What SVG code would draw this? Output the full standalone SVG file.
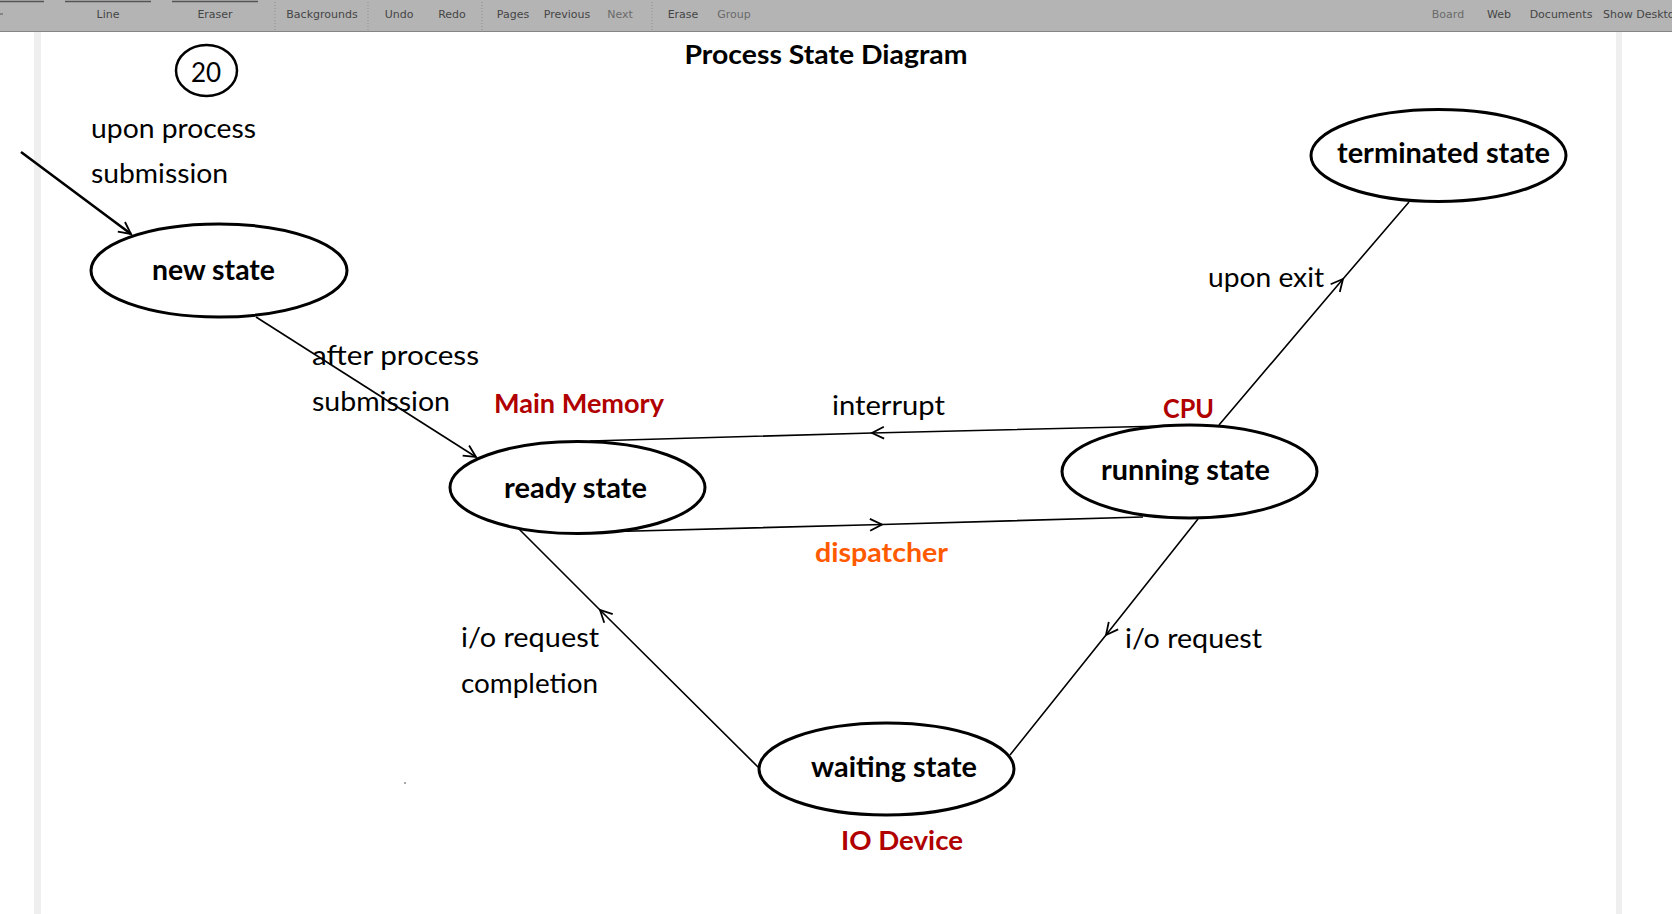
<svg xmlns="http://www.w3.org/2000/svg" width="1672" height="914" viewBox="0 0 1672 914">
<style>
.tb{font-family:"DejaVu Sans",sans-serif;font-size:11px;fill:#454545;text-anchor:middle}
.tbl{fill:#6a6a6a}
.sep{stroke:#8f8f8f;stroke-width:1;stroke-dasharray:1 2}
.node{fill:#fff;stroke:#000;stroke-width:3}
.nl{font-family:Lato,"Noto Sans",sans-serif;font-weight:bold;font-size:28px;fill:#000}
.lb{font-family:Lato,"Noto Sans",sans-serif;font-size:26px;fill:#000}
.red{font-family:Lato,"Noto Sans",sans-serif;font-weight:bold;font-size:26px;fill:#b00000}
.org{font-family:Lato,"Noto Sans",sans-serif;font-weight:bold;font-size:26px;fill:#ff5a00}
.conn{fill:none;stroke:#000;stroke-width:1.6}
</style>
<defs>
<marker id="arr" markerUnits="userSpaceOnUse" markerWidth="30" markerHeight="30" viewBox="-15 -15 30 30" refX="0" refY="0" orient="auto" overflow="visible">
<path d="M-12,-6 L0,0 L-12,6" fill="none" stroke="#000" stroke-width="1.8"/>
</marker>
</defs>
<rect x="0" y="0" width="1672" height="914" fill="#fff"/>
<g id="toolbar">
<rect x="0" y="0" width="1672" height="31" fill="#b4b4b4"/>
<line x1="0" y1="31.5" x2="1672" y2="31.5" stroke="#858585" stroke-width="1"/>
<path d="M0,1.5 H44 M65,1.5 H151 M172,1.5 H258" fill="none" stroke="#555" stroke-width="1.5"/>
<line x1="0" y1="14" x2="3" y2="14" stroke="#555"/>
<line class="sep" x1="275" y1="2" x2="275" y2="31"/>
<line class="sep" x1="368" y1="2" x2="368" y2="31"/>
<line class="sep" x1="482" y1="2" x2="482" y2="31"/>
<line class="sep" x1="652" y1="2" x2="652" y2="31"/>
<text class="tb" x="108" y="18">Line</text>
<text class="tb" x="215" y="18">Eraser</text>
<text class="tb" x="322" y="18">Backgrounds</text>
<text class="tb" x="399" y="18">Undo</text>
<text class="tb" x="452" y="18">Redo</text>
<text class="tb" x="513" y="18">Pages</text>
<text class="tb" x="567" y="18">Previous</text>
<text class="tb tbl" x="620" y="18">Next</text>
<text class="tb" x="683" y="18">Erase</text>
<text class="tb tbl" x="734" y="18">Group</text>
<text class="tb tbl" x="1448" y="18">Board</text>
<text class="tb" x="1499" y="18">Web</text>
<text class="tb" x="1561" y="18">Documents</text>
<text class="tb" x="1603" y="18" style="text-anchor:start">Show Deskto</text>
</g>
<rect x="34" y="32" width="7" height="882" fill="#efefef"/>
<rect x="1616" y="32" width="6" height="882" fill="#efefef"/>
<rect x="404" y="782" width="2" height="2" fill="#aaa"/>
<text x="826" y="64" text-anchor="middle" font-family="Lato,'Noto Sans',sans-serif" font-weight="bold" font-size="27" textLength="283" lengthAdjust="spacingAndGlyphs">Process State Diagram</text>
<g id="page-number">
<ellipse cx="206.5" cy="70.5" rx="30.5" ry="25.5" fill="none" stroke="#000" stroke-width="2.5"/>
<text class="lb" x="206" y="82" text-anchor="middle" font-size="28">20</text>
</g>
<g id="connectors">
<line x1="21" y1="152" x2="131" y2="234" fill="none" stroke="#000" stroke-width="2.6" marker-end="url(#arr)"/>
<line class="conn" x1="256" y1="317" x2="476" y2="457" marker-end="url(#arr)"/>
<polyline class="conn" points="1165,426 872,433 590,441" marker-mid="url(#arr)"/>
<polyline class="conn" points="597,532 882,524.5 1143,517" marker-mid="url(#arr)"/>
<polyline class="conn" points="759,768 600,610 515,525" marker-mid="url(#arr)"/>
<polyline class="conn" points="1198,519 1106,635 1010,755" marker-mid="url(#arr)"/>
<polyline class="conn" points="1219,425 1343,279 1409,202" marker-mid="url(#arr)"/>
</g>
<g id="labels">
<text class="lb" x="91" y="138" textLength="165" lengthAdjust="spacingAndGlyphs">upon process</text>
<text class="lb" x="91" y="183" textLength="137" lengthAdjust="spacingAndGlyphs">submission</text>
<text class="lb" x="312" y="365" textLength="167" lengthAdjust="spacingAndGlyphs">after process</text>
<text class="lb" x="312" y="411" textLength="138" lengthAdjust="spacingAndGlyphs">submission</text>
<text class="red" x="494" y="413" textLength="170" lengthAdjust="spacingAndGlyphs">Main Memory</text>
<text class="lb" x="832" y="415" textLength="113" lengthAdjust="spacingAndGlyphs">interrupt</text>
<text class="red" x="1163" y="418" textLength="51" lengthAdjust="spacingAndGlyphs">CPU</text>
<text class="lb" x="1208" y="287" textLength="116" lengthAdjust="spacingAndGlyphs">upon exit</text>
<text class="org" x="815" y="562" textLength="133" lengthAdjust="spacingAndGlyphs">dispatcher</text>
<text class="lb" x="1125" y="648" textLength="137" lengthAdjust="spacingAndGlyphs">i/o request</text>
<text class="lb" x="461" y="647" textLength="138" lengthAdjust="spacingAndGlyphs">i/o request</text>
<text class="lb" x="461" y="693" textLength="137" lengthAdjust="spacingAndGlyphs">completion</text>
<text class="red" x="841" y="850" textLength="122" lengthAdjust="spacingAndGlyphs">IO Device</text>
</g>
<g id="new-state">
<ellipse class="node" cx="219" cy="270.5" rx="128" ry="46.5"/>
<text class="nl" x="152" y="280" textLength="123" lengthAdjust="spacingAndGlyphs">new state</text>
</g>
<g id="ready-state">
<ellipse class="node" cx="577.5" cy="487.5" rx="127.5" ry="46"/>
<text class="nl" x="504" y="498" textLength="143" lengthAdjust="spacingAndGlyphs">ready state</text>
</g>
<g id="running-state">
<ellipse class="node" cx="1189.5" cy="471.5" rx="127.5" ry="46.5"/>
<text class="nl" x="1101" y="480" textLength="169" lengthAdjust="spacingAndGlyphs">running state</text>
</g>
<g id="terminated-state">
<ellipse class="node" cx="1438.5" cy="155.5" rx="127.5" ry="46"/>
<text class="nl" x="1337" y="163" textLength="213" lengthAdjust="spacingAndGlyphs">terminated state</text>
</g>
<g id="waiting-state">
<ellipse class="node" cx="886.5" cy="769" rx="127.5" ry="46"/>
<text class="nl" x="811" y="777" textLength="166" lengthAdjust="spacingAndGlyphs">waiting state</text>
</g>
</svg>
